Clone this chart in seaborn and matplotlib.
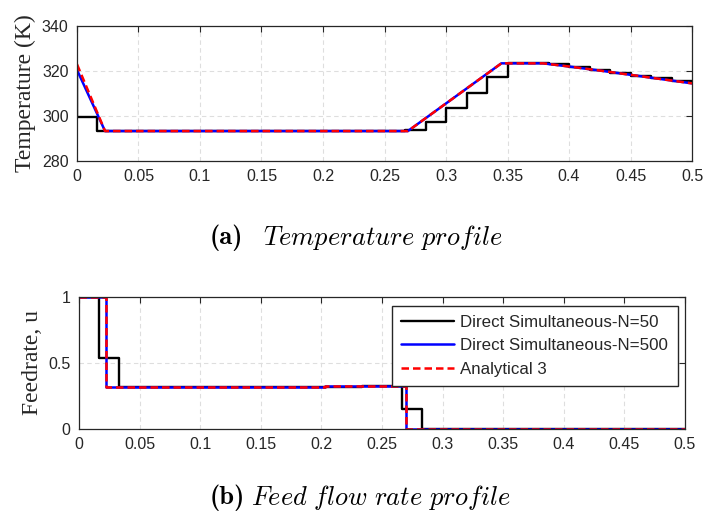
import numpy as np
import pandas as pd
import matplotlib
matplotlib.use("Agg")
import matplotlib.pyplot as plt
import seaborn as sns

# ---------------------------------------------------------------------------
# Data
# ---------------------------------------------------------------------------
# N=50 direct simultaneous solution: piecewise constant on intervals of 1/60
step_dt = 1.0 / 60.0
t_end = 0.5

temp_n50_initial = 320.0
temp_n50 = [299.4, 293.3, 293.3, 293.3, 293.3, 293.3, 293.3, 293.3, 293.3, 293.3,
            293.3, 293.3, 293.3, 293.3, 293.3, 293.3, 293.8, 297.5, 303.4, 310.1,
            317.2, 323.4, 323.4, 323.0, 321.8, 320.5, 319.2, 317.9, 316.7, 315.5]

feed_n50 = [1.0, 0.535, 0.316, 0.316, 0.316, 0.316, 0.316, 0.316, 0.316, 0.316,
            0.316, 0.316, 0.316, 0.316, 0.326, 0.326, 0.149, 0.0, 0.0, 0.0,
            0.0, 0.0, 0.0, 0.0, 0.0, 0.0, 0.0, 0.0, 0.0, 0.0]

# N=500 and analytical temperature profiles (breakpoints)
temp_time = [0.0, 0.0228, 0.269, 0.345, 0.379, 0.40, 0.425, 0.45, 0.475, 0.5]
temp_n500 = [320.5, 293.3, 293.3, 323.4, 323.4, 322.0, 320.2, 318.3, 316.4, 314.5]
temp_analytical = [323.0, 293.3, 293.3, 323.4, 323.4, 322.0, 320.2, 318.3, 316.4, 314.5]

# N=500 and analytical feed rate (switching times and levels)
feed_switch = [0.0, 0.0225, 0.203, 0.27]
feed_n500 = [1.0, 0.316, 0.326, 0.0]
feed_analytical = [1.0, 0.316, 0.326, 0.0]

labels = ["Direct Simultaneous-N=50", "Direct Simultaneous-N=500", "Analytical 3"]
x_ticks = [0, 0.05, 0.1, 0.15, 0.2, 0.25, 0.3, 0.35, 0.4, 0.45, 0.5]
x_tick_labels = ["0", "0.05", "0.1", "0.15", "0.2", "0.25", "0.3", "0.35", "0.4", "0.45", "0.5"]
temp_ticks = [280, 300, 320, 340]
feed_ticks = [0, 0.5, 1]
feed_tick_labels = ["0", "0.5", "1"]


def piecewise(values, start_value=None):
    """Frame of a piecewise-constant profile held until t_end."""
    t = list(np.arange(len(values)) * step_dt) + [t_end]
    v = list(values) + [values[-1]]
    if start_value is not None:
        t = [0.0] + t
        v = [start_value] + v
    return pd.DataFrame({"t": t, "v": v})


def switching(times, levels):
    t = list(times) + [t_end]
    v = list(levels) + [levels[-1]]
    return pd.DataFrame({"t": t, "v": v})


# ---------------------------------------------------------------------------
# Style
# ---------------------------------------------------------------------------
sns.set_style("white")
plt.rcParams["font.family"] = ["Liberation Sans", "DejaVu Sans"]
plt.rcParams["mathtext.fontset"] = "cm"

ink = "#262626"
fig = plt.figure(figsize=(7.07, 5.14), dpi=100)
ax_t = fig.add_axes([0.1089, 0.6868, 0.8699, 0.2626])
ax_u = fig.add_axes([0.1117, 0.1654, 0.8571, 0.2568])

red_dash = (0, (3, 1.6))

# Temperature
sns.lineplot(data=piecewise(temp_n50, temp_n50_initial), x="t", y="v", ax=ax_t,
             estimator=None, sort=False, drawstyle="steps-post",
             color="black", lw=1.7, label=labels[0])
sns.lineplot(data=pd.DataFrame({"t": temp_time, "v": temp_n500}), x="t", y="v", ax=ax_t,
             estimator=None, sort=False, color="#0000ff", lw=1.8, label=labels[1])
sns.lineplot(data=pd.DataFrame({"t": temp_time, "v": temp_analytical}), x="t", y="v", ax=ax_t,
             estimator=None, sort=False, color="#ff0000", lw=1.8, linestyle=red_dash,
             label=labels[2])

# Feed rate
sns.lineplot(data=piecewise(feed_n50), x="t", y="v", ax=ax_u,
             estimator=None, sort=False, drawstyle="steps-post",
             color="black", lw=1.7, label=labels[0])
sns.lineplot(data=switching(feed_switch, feed_n500), x="t", y="v", ax=ax_u,
             estimator=None, sort=False, drawstyle="steps-post",
             color="#0000ff", lw=1.8, label=labels[1])
sns.lineplot(data=switching(feed_switch, feed_analytical), x="t", y="v", ax=ax_u,
             estimator=None, sort=False, drawstyle="steps-post",
             color="#ff0000", lw=1.8, linestyle=red_dash, label=labels[2])

for ax in (ax_t, ax_u):
    ax.set_xlim(0, t_end)
    ax.set_xticks(x_ticks)
    ax.set_xticklabels(x_tick_labels)
    ax.set_xlabel("")
    ax.grid(True, linestyle=(0, (4, 3)), color="#dedede", lw=0.8)
    ax.set_axisbelow(True)
    ax.tick_params(direction="in", top=True, right=True, length=4, width=0.8,
                   colors=ink, labelsize=11.5, pad=6)
    for s in ax.spines.values():
        s.set_color(ink)
        s.set_linewidth(0.9)
        s.set_visible(True)

ax_t.set_ylim(280, 340)
ax_t.set_yticks(temp_ticks)
ax_t.set_ylabel("Temperature (K)", family=["Liberation Serif"], fontsize=17, color=ink,
                labelpad=4)
ax_t.get_legend().remove()

ax_u.set_ylim(0, 1)
ax_u.set_yticks(feed_ticks)
ax_u.set_yticklabels(feed_tick_labels)
ax_u.set_ylabel("Feedrate, u", family=["Liberation Serif"], fontsize=17, color=ink,
                labelpad=4)
ax_u.legend(loc="upper right", bbox_to_anchor=(0.988, 0.932), fontsize=12.2,
            frameon=True, fancybox=False, framealpha=1, edgecolor=ink,
            handlelength=3.1, labelspacing=0.48, borderpad=0.55, handletextpad=0.4,
            borderaxespad=0)

# Sub-figure captions
cap_size = 19
fig.text(243 / 707, 1 - 238 / 514, "(a)", family="cmb10", fontsize=cap_size,
         ha="right", va="center", color="black")
fig.text(263 / 707, 1 - 238 / 514, r"$\mathit{Temperature\ profile}$",
         ha="left", va="center", fontsize=cap_size, color="black")
fig.text(245 / 707, 1 - 498 / 514, "(b)", family="cmb10", fontsize=cap_size,
         ha="right", va="center", color="black")
fig.text(251 / 707, 1 - 498 / 514, r"$\mathit{Feed\ flow\ rate\ profile}$",
         ha="left", va="center", fontsize=cap_size, color="black")

fig.savefig("out.png", dpi=100, facecolor="white")
